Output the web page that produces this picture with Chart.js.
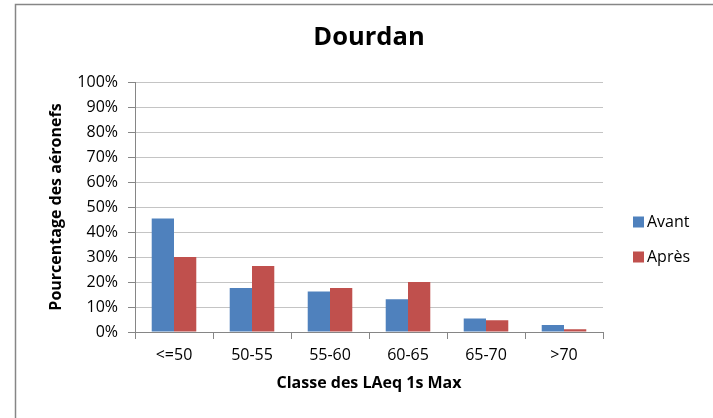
<!DOCTYPE html>
<html>
<head>
<meta charset="utf-8">
<script src="https://cdn.jsdelivr.net/npm/chart.js@4/dist/chart.umd.min.js"></script>
<style>
  html, body { margin: 0; padding: 0; background: #fff; }
  #wrap { width: 713px; height: 418px; position: relative; }
</style>
</head>
<body>
<div id="wrap"><canvas id="c" width="713" height="418"></canvas></div>
<script>
const categories = ['<=50', '50-55', '55-60', '60-65', '65-70', '>70'];
const avant = [45.4, 17.6, 16.2, 13.1, 5.4, 2.8];
const apres = [30.0, 26.4, 17.6, 20.0, 4.7, 1.1];
const seriesNames = ['Avant', 'Après'];
const yTicks = [0, 10, 20, 30, 40, 50, 60, 70, 80, 90, 100];

const FONT = '"Open Sans", "Noto Sans", sans-serif';
const AXIS = '#868686';

// frame, title and legend the way the spreadsheet drew them
const decor = {
    id: 'decor',
    beforeDraw(chart) {
        const ctx = chart.ctx;
        ctx.save();
        ctx.fillStyle = '#fff';
        ctx.fillRect(0, 0, chart.width, chart.height);
        ctx.strokeStyle = AXIS;
        ctx.lineWidth = 1.5;
        ctx.beginPath();
        ctx.moveTo(15.5, chart.height);
        ctx.lineTo(15.5, 4.5);
        ctx.lineTo(chart.width, 4.5);
        ctx.stroke();
        ctx.restore();
    },
    afterDraw(chart) {
        const ctx = chart.ctx;
        ctx.save();
        ctx.fillStyle = '#000';
        ctx.textAlign = 'center';
        ctx.textBaseline = 'middle';
        ctx.font = 'bold 25.5px ' + FONT;
        ctx.fillText('Dourdan', (chart.chartArea.left + chart.chartArea.right) / 2, 38);

        ctx.font = '16px ' + FONT;
        ctx.textAlign = 'left';
        chart.data.datasets.forEach((ds, i) => {
            const y = 222 + i * 35;
            ctx.fillStyle = ds.backgroundColor;
            ctx.fillRect(633, y - 5.5, 11, 11);
            ctx.fillStyle = '#000';
            ctx.fillText(ds.label, 647, y);
        });
        ctx.restore();
    },
};

new Chart(document.getElementById('c'), {
    type: 'bar',
    data: {
        labels: categories,
        datasets: [
            { label: seriesNames[0], data: avant, backgroundColor: '#4f81bd' },
            { label: seriesNames[1], data: apres, backgroundColor: '#c0504d' },
        ],
    },
    options: {
        responsive: false,
        animation: false,
        devicePixelRatio: 1,
        categoryPercentage: 2 / 3.5,
        barPercentage: 1,
        layout: { padding: { left: 0, top: 82, right: 110, bottom: 0 } },
        plugins: {
            legend: { display: false },
            title: { display: false },
            tooltip: { enabled: false },
        },
        scales: {
            x: {
                afterFit: (s) => { s.height = 86; },
                grid: {
                    offset: true,
                    drawOnChartArea: false,
                    drawTicks: true,
                    tickLength: 7,
                    tickColor: AXIS,
                },
                border: { color: AXIS },
                ticks: { color: '#000', font: { family: FONT, size: 16 }, padding: 7, maxRotation: 0 },
                title: {
                    display: true,
                    text: 'Classe des LAeq 1s Max',
                    color: '#000',
                    font: { family: FONT, size: 16, weight: 'bold' },
                    padding: { top: 0, bottom: 25 },
                },
            },
            y: {
                min: 0,
                max: 100,
                afterFit: (s) => { s.width = 135; },
                afterBuildTicks: (s) => { s.ticks = yTicks.map(v => ({ value: v })); },
                grid: { color: '#c4c4c4', tickLength: 7, tickColor: AXIS },
                border: { color: AXIS },
                ticks: {
                    color: '#000',
                    font: { family: FONT, size: 16 },
                    padding: 10,
                    callback: (v) => v + '%',
                },
                title: {
                    display: true,
                    text: 'Pourcentage des aéronefs',
                    color: '#000',
                    font: { family: FONT, size: 16, weight: 'bold' },
                    padding: { top: 47, bottom: 0 },
                },
            },
        },
    },
    plugins: [decor],
});
</script>
</body>
</html>
